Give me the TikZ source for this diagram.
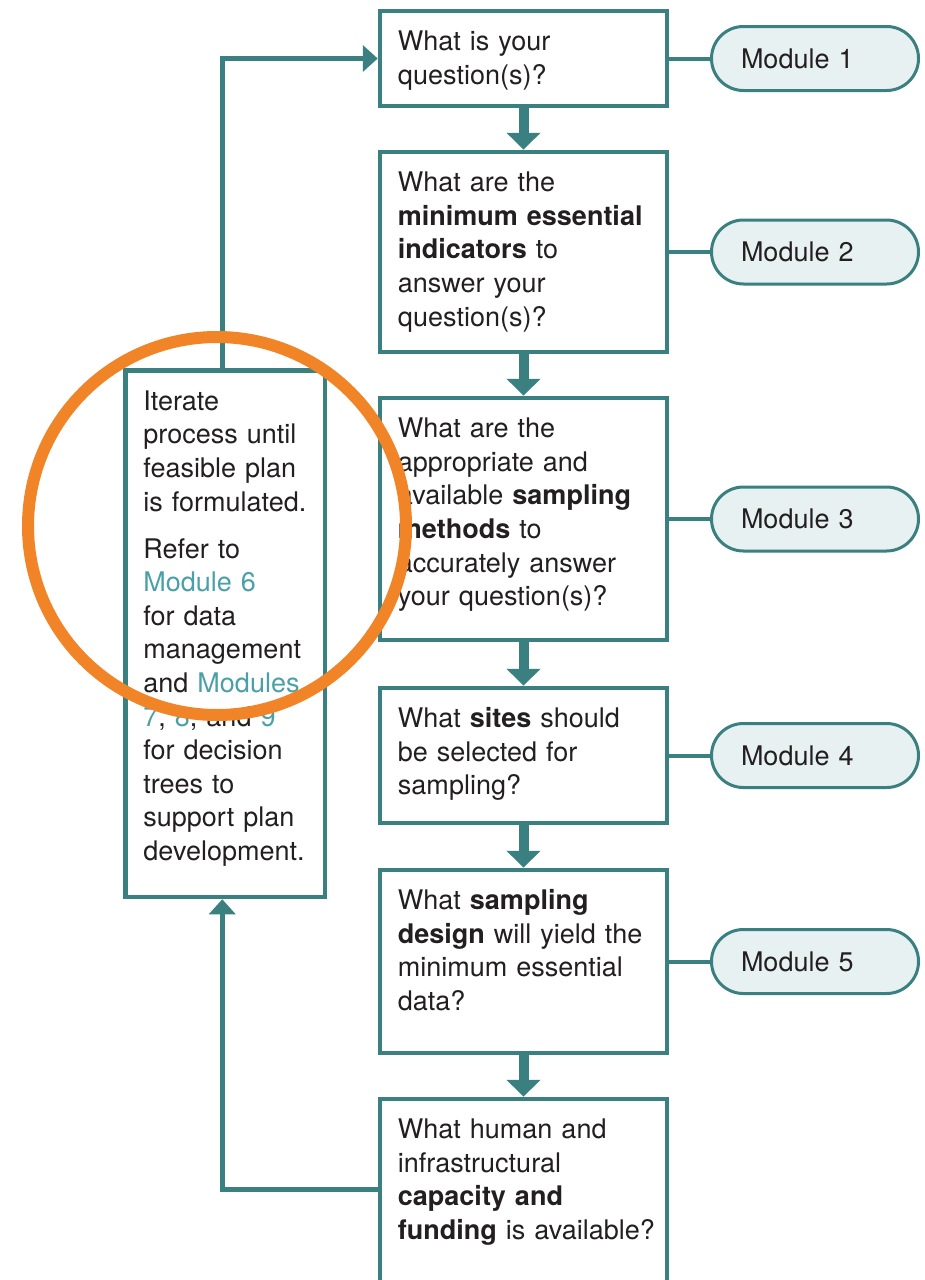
\documentclass[tikz,border=0pt]{standalone}
\usepackage{fontspec}
\setmainfont{TeX Gyre Heros}
\usetikzlibrary{arrows.meta}
\definecolor{tealline}{RGB}{58,128,128}
\definecolor{pillfill}{RGB}{231,241,241}
\definecolor{linkc}{RGB}{74,160,168}
\definecolor{ink}{RGB}{35,31,32}
\definecolor{ringc}{RGB}{241,132,38}
\newcommand\qfont{\fontsize{27pt}{33.6pt}\selectfont}
\tikzset{
 qbox/.style={draw=tealline, line width=4.5pt, fill=white, minimum width=287pt, inner sep=0pt},
 qtext/.style={anchor=north west, inner sep=0pt, text width=265pt, align=left, font=\qfont, text=ink},
 pill/.style={draw=tealline, line width=3pt, fill=pillfill, rounded corners=31.9pt, minimum width=207pt, minimum height=64pt, text width=148pt, inner xsep=29pt, inner ysep=0pt, align=left, font=\qfont, text=ink},
 flow/.style={draw=tealline, line width=10pt, -{Triangle[width=33pt,length=17pt]}},
 loopline/.style={draw=tealline, line width=5pt, -{Triangle[width=26pt,length=15pt]}},
 modline/.style={draw=tealline, line width=4pt},
}
\begin{document}
\begin{tikzpicture}[x=1pt,y=-1pt]
\useasboundingbox (0,0) rectangle (924,1280);
\fill[white] (0,0) rectangle (924,1280);
% question boxes
\node[qbox, minimum height=95pt]  (b1) at (523.5,58.5) {};
\node[qbox, minimum height=200pt] (b2) at (523.5,252) {};
\node[qbox, minimum height=242pt] (b3) at (523.5,519) {};
\node[qbox, minimum height=135pt] (b4) at (523.5,755.5) {};
\node[qbox, minimum height=183pt] (b5) at (523.5,961.5) {};
\node[qbox, minimum height=221pt] (b6) at (523.5,1209.5) {};
% left box
\node[qbox, minimum width=199.5pt, minimum height=526.5pt] (L) at (225.25,633.75) {};
% texts
\node[qtext] (t1) at ([shift={(20,18.25)}]b1.north west) {\strut What is your\\ question(s)?};
\node[qtext] (t2) at ([shift={(20,18.25)}]b2.north west) {\strut What are the\\ \textbf{minimum essential}\\ \textbf{indicators} to\\ answer your\\ question(s)?};
\node[qtext] (t3) at ([shift={(20,18.25)}]b3.north west) {\strut What are the\\ appropriate and\\ available \textbf{sampling}\\ \textbf{methods} to\\ accurately answer\\ your question(s)?};
\node[qtext] (t4) at ([shift={(20,18.25)}]b4.north west) {\strut What \textbf{sites} should\\ be selected for\\ sampling?};
\node[qtext] (t5) at ([shift={(20,18.25)}]b5.north west) {\strut What \textbf{sampling}\\ \textbf{design} will yield the\\ minimum essential\\ data?};
\node[qtext] (t6) at ([shift={(20,18.25)}]b6.north west) {\strut What human and\\ infrastructural\\ \textbf{capacity and}\\ \textbf{funding} is available?};
\node[qtext, text width=178pt] (tL) at ([shift={(20,18.25)}]L.north west) {\strut Iterate\\ process until\\ feasible plan\\ is formulated.\\[13.5pt] Refer to\\ \textcolor{linkc}{Module 6}\\ for data\\ management\\ and \textcolor{linkc}{Modules}\\ \textcolor{linkc}{7}, \textcolor{linkc}{8}, and \textcolor{linkc}{9}\\ for decision\\ trees to\\ support plan\\ development.};
% module pills
\coordinate (px) at (815,0);
\node[pill] (m1) at (b1 -| px) {Module 1};
\node[pill] (m2) at (b2 -| px) {Module 2};
\node[pill] (m3) at (b3 -| px) {Module 3};
\node[pill] (m4) at (b4 -| px) {Module 4};
\node[pill] (m5) at (b5 -| px) {Module 5};
\foreach \i in {1,...,5} { \draw[modline] (b\i.east) -- (m\i.west); }
% flow arrows
\draw[flow] (b1.south) -- (b2.north);
\draw[flow] (b2.south) -- (b3.north);
\draw[flow] (b3.south) -- (b4.north);
\draw[flow] (b4.south) -- (b5.north);
\draw[flow] (b5.south) -- (b6.north);
% loop
\draw[loopline] ([xshift=-3pt]L.north) |- (b1.west);
\coordinate (y6) at (0,1189);
\draw[loopline] (b6.west |- y6) -| ([xshift=-3pt]L.south);
% orange ring
\draw[ringc, line width=12pt] (217,526) circle [radius=189pt];
\end{tikzpicture}
\end{document}
